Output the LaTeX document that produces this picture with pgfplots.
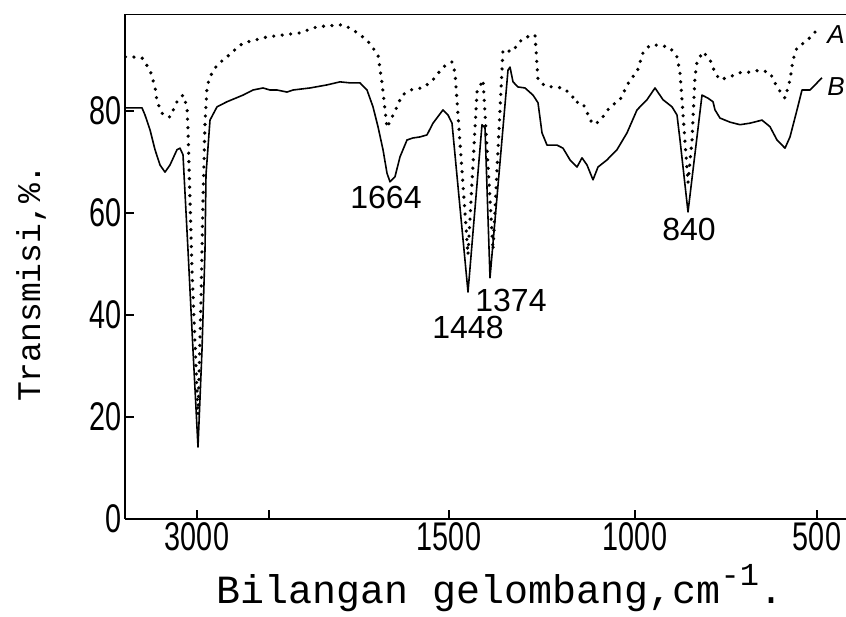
\documentclass[border=0pt]{standalone}
\usepackage{fontspec}
\setmainfont{Liberation Sans}
\newfontfamily\monofont{Liberation Mono}
\usepackage{graphicx}
\usepackage{pgfplots}
\pgfplotsset{compat=1.18}
\newcommand\sx[1]{\scalebox{0.72}[1]{#1}}

% x = position along the chart (wavenumber axis is non-linear), y = transmission %
\pgfplotstableread{
x y
117 80.6
142 80.6
145 79.2
150 76.3
155 72.4
160 69.4
165 68.0
170 69.4
177 72.4
180 72.7
183 71.4
188 52.7
193 33.1
198 14.1
202 33.1
205 52.7
206 67.5
210 78.2
217 80.8
227 81.8
243 83.1
253 84.1
263 84.5
270 84.1
277 84.1
287 83.7
293 84.1
310 84.5
327 85.1
340 85.7
350 85.5
360 85.5
367 84.1
373 80.8
378 76.9
383 72.4
387 67.8
390 66.1
395 67.1
400 71.0
407 74.3
413 74.7
420 74.9
427 75.3
433 77.6
443 80.2
448 79.2
452 77.6
468 44.5
482 77.3
485 76.7
490 47.3
508 88.0
510 88.6
513 85.7
518 84.7
525 84.5
533 83.1
538 81.6
542 75.7
547 73.3
557 73.3
563 72.7
570 70.4
577 69.0
582 70.8
587 69.4
593 66.5
598 69.0
607 70.4
617 72.4
627 75.7
637 80.2
647 82.2
655 84.5
663 82.2
672 80.8
677 79.2
680 74.3
688 60.2
702 83.1
708 82.5
713 81.8
715 80.2
720 78.6
730 77.8
740 77.3
750 77.6
762 78.2
770 76.9
777 74.3
785 72.7
790 74.9
797 80.2
802 84.1
810 84.1
815 85.1
822 86.5
}\specB

\pgfplotstableread{
x y
117 90.6
132 90.6
142 90.4
150 88.0
155 84.7
157 81.8
163 79.2
170 78.8
177 81.8
183 83.1
187 80.8
188 76.3
192 48.8
198 20.4
201 42.9
203 62.5
205 77.6
207 84.7
210 86.7
217 89.0
227 90.6
235 92.0
243 93.3
267 94.5
300 95.3
317 96.5
343 96.9
353 95.9
367 93.9
378 91.0
382 85.5
385 80.2
387 76.7
397 80.8
402 83.1
413 84.3
423 84.5
433 86.1
443 88.6
452 89.6
455 87.5
468 51.8
477 83.7
483 86.1
493 52.7
503 92.0
512 91.6
523 94.3
535 94.9
538 86.1
545 84.9
553 84.7
563 84.5
572 83.1
575 81.6
580 81.8
585 80.8
590 78.2
595 77.3
602 78.6
610 80.8
620 82.2
630 86.1
637 87.6
643 91.4
650 92.9
660 92.9
670 92.4
677 90.6
680 87.5
688 65.9
692 74.3
695 86.7
697 89.6
703 91.6
710 90.0
715 87.5
720 86.1
730 86.7
740 87.5
750 87.6
760 88.0
770 87.5
777 84.7
785 82.5
790 86.1
793 90.0
797 92.4
805 93.5
813 94.9
818 96.3
}\specA

\begin{document}
\begin{tikzpicture}
\useasboundingbox (0,0) rectangle (846pt,616pt);
\begin{axis}[
  at={(125pt,97pt)}, anchor=south west,
  scale only axis, width=721pt, height=505pt,
  xmin=125, xmax=846, ymin=0, ymax=99,
  axis x line*=bottom, axis y line*=left,
  axis line style={line width=2.2pt, -},
  xtick={197,269,449,635,817},
  xticklabels={\sx{3000},,\sx{1500},\sx{1000},\sx{500}},
  ytick={0,20,40,60,80},
  yticklabels={\sx{0},\sx{20},\sx{40},\sx{60},\sx{80}},
  tick align=inside, major tick length=9pt,
  tick style={line width=1.5pt, black},
  ticklabel style={font=\fontsize{40}{40}\selectfont},
  /pgf/number format/assume math mode=true,
]
\draw[line width=2.2pt] (rel axis cs:-0.015,1) -- (rel axis cs:1,1);
\addplot[black, line width=1.6pt, line join=round, mark=none] table[x=x,y=y] {\specB};
\addplot[black, line width=3.6pt, line cap=round, dash pattern=on 0pt off 8.5pt, mark=none] table[x=x,y=y] {\specA};
\node[font=\fontsize{32}{32}\selectfont] at (axis cs:386,63.1) {1664};
\node[font=\fontsize{32}{32}\selectfont] at (axis cs:468,37.5) {1448};
\node[font=\fontsize{32}{32}\selectfont] at (axis cs:511,42.9) {1374};
\node[font=\fontsize{32}{32}\selectfont] at (axis cs:689,56.7) {840};
\node[font=\fontsize{26}{26}\selectfont\itshape] at (axis cs:836,94.9) {A};
\node[font=\fontsize{26}{26}\selectfont\itshape] at (axis cs:836,84.7) {B};
\end{axis}
\node[rotate=90, anchor=base, font=\monofont\fontsize{33}{33}\selectfont] at (40pt,333pt) {Transmisi,\%.};
\node[anchor=base west, font=\monofont\fontsize{40}{40}\selectfont] at (213pt,13pt) {Bilangan gelombang,cm\raisebox{0.45em}{\fontsize{32}{32}\selectfont -1}.};
\end{tikzpicture}
\end{document}
